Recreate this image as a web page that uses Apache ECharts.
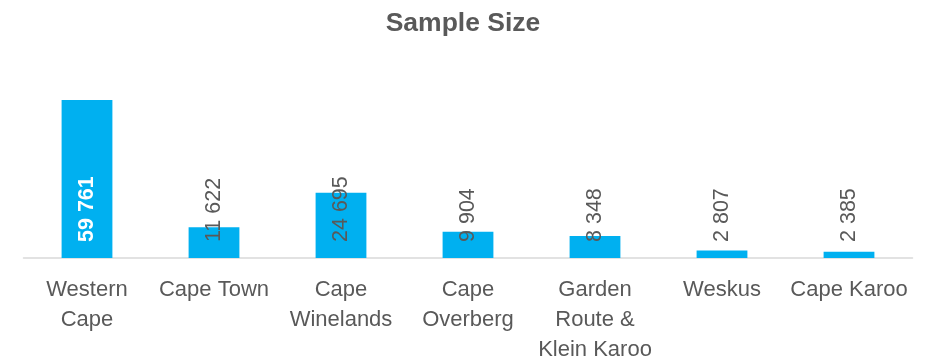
<!DOCTYPE html>
<html>
<head>
<meta charset="utf-8">
<script src="https://cdn.jsdelivr.net/npm/echarts@6/dist/echarts.min.js"></script>
<style>
  html, body { margin: 0; padding: 0; background: #fff; }
  #chart { width: 926px; height: 364px; }
</style>
</head>
<body>
<div id="chart"></div>
<script>
const categories = ['Western\nCape', 'Cape Town', 'Cape\nWinelands', 'Cape\nOverberg', 'Garden\nRoute &\nKlein Karoo', 'Weskus', 'Cape Karoo']
const sampleSizes = [59761, 11622, 24695, 9904, 8348, 2807, 2385]

const barColor = '#00B0F0'
const textColor = '#595959'
const font = '"Liberation Sans", Arial, sans-serif'

// thousands separated by a space, like the source
const fmt = v => String(v).replace(/\B(?=(\d{3})+(?!\d))/g, ' ')

const chart = echarts.init(document.getElementById('chart'))

chart.setOption({
  animation: false,
  textStyle: { fontFamily: font },
  title: {
    text: 'Sample Size',
    left: 'center',
    top: 5,
    textStyle: { fontFamily: font, fontSize: 26.5, fontWeight: 'bold', color: textColor }
  },
  grid: { left: 23.5, right: 13.5, top: 46.5, bottom: 106, outerBoundsMode: 'none' },
  xAxis: {
    type: 'category',
    data: categories,
    axisLine: { lineStyle: { color: '#D9D9D9', width: 1.5 } },
    axisTick: { show: false },
    axisLabel: {
      interval: 0,
      color: textColor,
      fontFamily: font,
      fontSize: 22,
      lineHeight: 30,
      margin: 17
    }
  },
  yAxis: {
    type: 'value',
    min: 0,
    max: 80000,
    show: false,
    splitLine: { show: false }
  },
  series: [{
    type: 'bar',
    barWidth: '40%',
    itemStyle: { color: barColor },
    data: sampleSizes.map((v, i) => ({
      value: v,
      label: i === 0 ? { color: '#fff', fontWeight: 'bold' } : {}
    })),
    label: {
      show: true,
      position: 'insideBottom',
      distance: 16,
      rotate: 90,
      align: 'left',
      verticalAlign: 'middle',
      fontFamily: font,
      fontSize: 21.5,
      color: textColor,
      formatter: p => fmt(p.value)
    }
  }]
})
</script>
</body>
</html>
